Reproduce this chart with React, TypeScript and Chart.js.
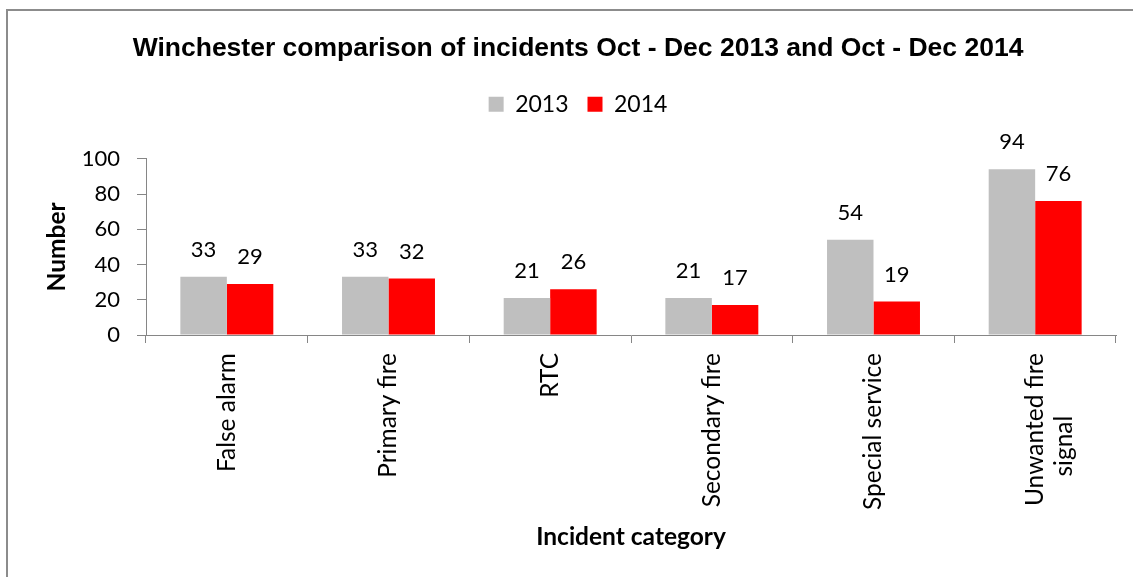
import React, { useEffect, useRef } from "react";
import { Chart, registerables } from "chart.js";

Chart.register(...registerables);

const categories: (string | string[])[] = [
  "False alarm",
  "Primary fire",
  "RTC",
  "Secondary fire",
  "Special service",
  ["Unwanted fire", "signal          "],
];
const values2013 = [33, 33, 21, 21, 54, 94];
const values2014 = [29, 32, 26, 17, 19, 76];
const seriesNames = ["2013", "2014"];
const yTicks = [0, 20, 40, 60, 80, 100];

const TITLE = "Winchester comparison of incidents Oct - Dec 2013 and Oct - Dec 2014";
const BODY_FONT = "Lato, 'Open Sans', sans-serif";
const AXIS = "#868686";

const dataLabels = {
  id: "dataLabels",
  afterDatasetsDraw(chart: any) {
    const { ctx } = chart;
    ctx.save();
    ctx.font = `22px ${BODY_FONT}`;
    ctx.fillStyle = "#000";
    ctx.textAlign = "center";
    ctx.textBaseline = "middle";
    chart.data.datasets.forEach((ds: any, i: number) => {
      const meta = chart.getDatasetMeta(i);
      meta.data.forEach((bar: any, j: number) => {
        ctx.fillText(String(ds.data[j]), bar.x, bar.y - 27);
      });
    });
    ctx.restore();
  },
};

const legendSpacer = {
  id: "legendSpacer",
  beforeLayout(chart: any) {
    const leg = chart.legend;
    if (leg && !leg.__patched) {
      const orig = leg.fit.bind(leg);
      leg.fit = function () {
        orig();
        this.height += 33;
      };
      leg.__patched = true;
    }
  },
};

export default function App() {
  const ref = useRef<HTMLCanvasElement>(null);
  useEffect(() => {
    if (!ref.current) return;
    const chart = new Chart(ref.current, {
      type: "bar",
      data: {
        labels: categories,
        datasets: [
          {
            label: seriesNames[0],
            data: values2013,
            backgroundColor: "#BFBFBF",
            barPercentage: 1,
            categoryPercentage: 0.575,
          },
          {
            label: seriesNames[1],
            data: values2014,
            backgroundColor: "#FF0000",
            barPercentage: 1,
            categoryPercentage: 0.575,
          },
        ],
      },
      options: {
        animation: false,
        responsive: false,
        maintainAspectRatio: false,
        layout: { padding: { left: 40, right: 17, top: 0, bottom: 0 } },
        plugins: {
          tooltip: { enabled: false },
          title: {
            display: true,
            text: TITLE,
            color: "#000",
            font: { family: "'Liberation Sans', Arial, sans-serif", size: 26.5, weight: "bold" },
            padding: { top: 33, bottom: 9 },
          },
          legend: {
            display: true,
            position: "top",
            labels: {
              color: "#000",
              font: { family: BODY_FONT, size: 23 },
              boxWidth: 15,
              boxHeight: 15,
              padding: 19,
            },
          },
        },
        scales: {
          x: {
            grid: {
              display: true,
              drawOnChartArea: false,
              drawTicks: true,
              tickLength: 8,
              color: AXIS,
              offset: true,
            },
            border: { display: true, color: AXIS, width: 1 },
            ticks: {
              color: "#000",
              font: { family: BODY_FONT, size: 24.5 },
              minRotation: 90,
              maxRotation: 90,
              autoSkip: false,
              padding: 10,
            },
            title: {
              display: true,
              text: "Incident category",
              color: "#000",
              font: { family: BODY_FONT, size: 24.5, weight: "bold" },
              padding: { top: 0, bottom: 25 },
            },
            afterFit(scale: any) {
              scale.height = 577 - 335;
            },
          },
          y: {
            min: 0,
            max: 100,
            afterBuildTicks(scale: any) {
              scale.ticks = yTicks.map((v) => ({ value: v }));
            },
            grid: {
              display: true,
              drawOnChartArea: false,
              drawTicks: true,
              tickLength: 9,
              color: AXIS,
            },
            border: { display: true, color: AXIS, width: 1 },
            ticks: {
              color: "#000",
              font: { family: BODY_FONT, size: 22 },
              padding: 17,
            },
            title: {
              display: true,
              text: "Number",
              color: "#000",
              font: { family: BODY_FONT, size: 24.5, weight: "bold" },
              padding: { top: 2, bottom: 0 },
            },
            afterFit(scale: any) {
              scale.width = 146 - 40;
            },
          },
        },
      },
      plugins: [dataLabels, legendSpacer],
    });
    return () => chart.destroy();
  }, []);

  return (
    <div
      style={{
        position: "fixed",
        left: 0,
        top: 0,
        width: 1133,
        height: 577,
        background: "#fff",
        overflow: "hidden",
      }}
    >
      <div
        style={{
          position: "absolute",
          left: 6,
          top: 9,
          width: 1200,
          height: 700,
          borderTop: "2px solid #8C8C8C",
          borderLeft: "2px solid #8C8C8C",
        }}
      />
      <canvas
        ref={ref}
        width={1133}
        height={577}
        style={{ position: "absolute", left: 0, top: 0, width: 1133, height: 577 }}
      />
    </div>
  );
}
